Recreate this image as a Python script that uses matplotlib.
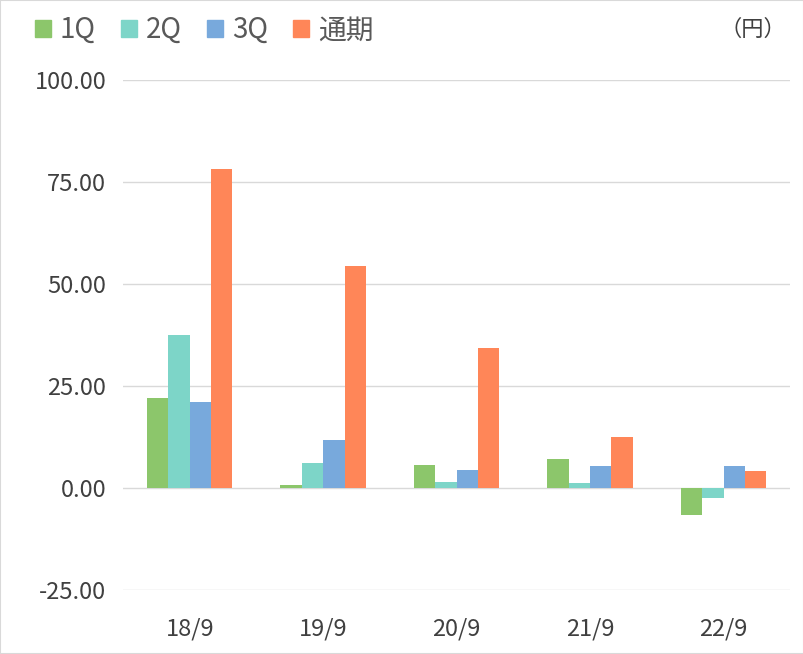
import numpy as np
import matplotlib.pyplot as plt
from matplotlib.patches import Patch

plt.rcParams['font.family'] = ['Noto Sans CJK JP', 'DejaVu Sans']

years = ['18/9', '19/9', '20/9', '21/9', '22/9']
series = ['1Q', '2Q', '3Q', '通期']
q1 = [22.1, 0.7, 5.6, 7.1, -6.6]
q2 = [37.5, 6.1, 1.5, 1.2, -2.5]
q3 = [21.1, 11.8, 4.4, 5.4, 5.4]
full = [78.2, 54.4, 34.3, 12.5, 4.2]
colors = ['#8CC66B', '#7DD5C8', '#78A9DC', '#FF8658']

fig = plt.figure(figsize=(8.04, 6.54), dpi=100)
ax = fig.add_axes([0.153, 0.098, 0.83, 0.78])
x = np.arange(len(years))
w = 0.16
for i, (vals, c) in enumerate(zip([q1, q2, q3, full], colors)):
    ax.bar(x + (i - 1.5) * w, vals, w, color=c, zorder=2)

ax.set_ylim(-25, 100)
ax.set_xlim(-0.5, 4.5)
ax.set_yticks(np.arange(-25, 101, 25))
ax.set_yticklabels([f'{v:.2f}' for v in np.arange(-25, 101, 25)], fontsize=17, color='#404040')
ax.set_xticks(x)
ax.set_xticklabels(years, fontsize=17, color='#404040')
ax.tick_params(length=0, pad=12)
ax.tick_params(axis='x', pad=20)
ax.grid(axis='y', color='#D9D9D9', linewidth=1, zorder=0)
for s in ax.spines.values():
    s.set_visible(False)

handles = [Patch(color=c) for c in colors]
fig.legend(handles, series, loc='upper left', bbox_to_anchor=(0.012, 1.015), ncol=4,
           frameon=False, fontsize=20, handlelength=0.6, handleheight=0.6,
           handletextpad=0.3, columnspacing=0.9, labelcolor='#595959')
fig.text(0.978, 0.955, '（円）', ha='right', va='center', fontsize=16, color='#404040')
fig.patches.append(plt.Rectangle((0, 0), 1, 1, transform=fig.transFigure,
                                 fill=False, edgecolor='#D9D9D9', linewidth=1.5))
fig.savefig('out.png', dpi=100)
